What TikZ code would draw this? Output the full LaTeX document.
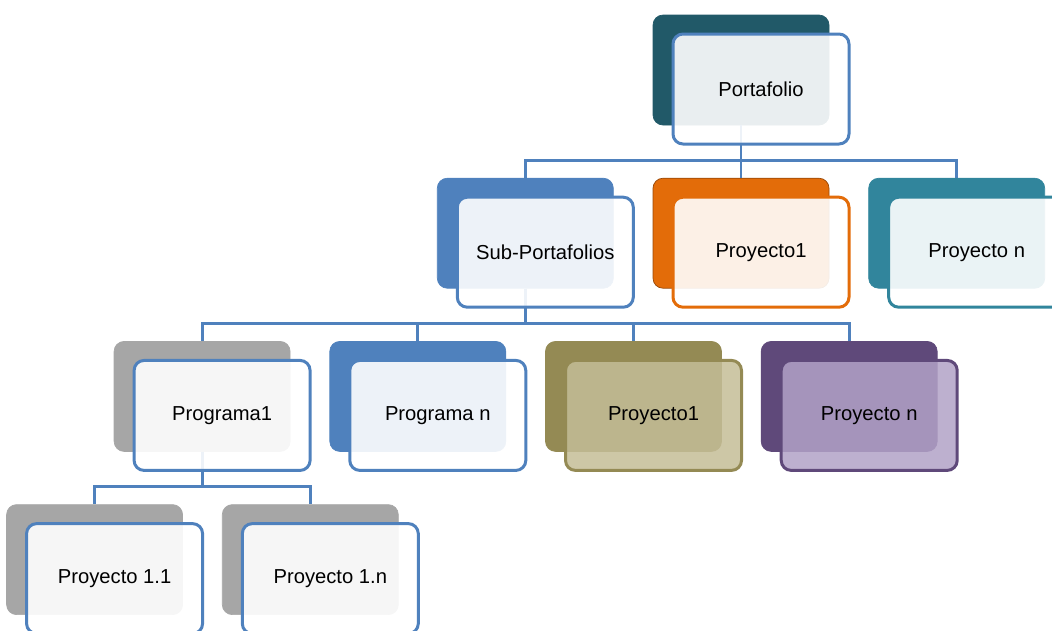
\documentclass[tikz,border=0pt]{standalone}
\usepackage{fontspec}
\setmainfont{Liberation Sans}
\usetikzlibrary{positioning}
\definecolor{linkblue}{HTML}{4F81BD}
\definecolor{darkteal}{HTML}{215968}
\definecolor{seateal}{HTML}{31859C}
\definecolor{orangeback}{HTML}{E36C09}
\definecolor{orangeline}{HTML}{984807}
\definecolor{greyback}{HTML}{A6A6A6}
\definecolor{oliveback}{HTML}{948A54}
\definecolor{olivefront}{HTML}{C4BD97}
\definecolor{purpleback}{HTML}{5F497A}
\definecolor{purplefront}{HTML}{B2A2C7}

\begin{document}
\begin{tikzpicture}[
    node distance=1.05cm and 0.78cm,
    back/.style={rectangle, rounded corners=0.2cm, minimum width=3.52cm, minimum height=2.2cm, fill=#1, draw=#1},
    front/.style={rectangle, rounded corners=0.2cm, minimum width=3.52cm, minimum height=2.2cm, draw=#1, line width=1.7pt, fill=white, fill opacity=0.9, text opacity=1, font=\fontsize{11.5}{13}\selectfont},
    link/.style={draw=linkblue, line width=1.6pt}
]

\clip (0,0) rectangle (21.04,-12.6);
\useasboundingbox (0,0) rectangle (21.04,-12.6);

% back boxes
\node[back=darkteal] (port) at (14.82,-1.4) {};
\node[back=orangeback, draw=orangeline, below=of port] (pr1) {};
\node[back=linkblue, left=of pr1] (sub) {};
\node[back=seateal, right=of pr1] (prn) {};

\node[back=linkblue, below=of sub, xshift=-2.15cm] (pgn) {};
\node[back=greyback, left=of pgn] (pg1) {};
\node[back=oliveback, right=of pgn] (pj1) {};
\node[back=purpleback, right=of pj1] (pjn) {};

\node[back=greyback, below=of pg1, xshift=-2.15cm] (p11) {};
\node[back=greyback, right=of p11] (p1n) {};

% connectors
\draw[link] (port.south) -- ++(0,-0.7) -| (sub.north);
\draw[link] (port.south) -- ++(0,-0.7) -| (pr1.north);
\draw[link] (port.south) -- ++(0,-0.7) -| (prn.north);
\draw[link] (sub.south) -- ++(0,-0.7) -| (pg1.north);
\draw[link] (sub.south) -- ++(0,-0.7) -| (pgn.north);
\draw[link] (sub.south) -- ++(0,-0.7) -| (pj1.north);
\draw[link] (sub.south) -- ++(0,-0.7) -| (pjn.north);
\draw[link] (pg1.south) -- ++(0,-0.7) -| (p11.north);
\draw[link] (pg1.south) -- ++(0,-0.7) -| (p1n.north);

% front boxes
\node[front=linkblue] (portF) at ([shift={(0.4,-0.38)}]port) {Portafolio};
\node[front=linkblue] (subF) at ([shift={(0.4,-0.38)}]sub) {Sub-Portafolios};
\node[front=orangeback] (pr1F) at ([shift={(0.4,-0.38)}]pr1) {Proyecto1};
\node[front=seateal] (prnF) at ([shift={(0.4,-0.38)}]prn) {Proyecto n};

\node[front=linkblue] (pg1F) at ([shift={(0.4,-0.38)}]pg1) {Programa1};
\node[front=linkblue] (pgnF) at ([shift={(0.4,-0.38)}]pgn) {Programa n};
\node[front=oliveback, fill=olivefront, fill opacity=0.85] (pj1F) at ([shift={(0.4,-0.38)}]pj1) {Proyecto1};
\node[front=purpleback, fill=purplefront, fill opacity=0.85] (pjnF) at ([shift={(0.4,-0.38)}]pjn) {Proyecto n};

\node[front=linkblue] (p11F) at ([shift={(0.4,-0.38)}]p11) {Proyecto 1.1};
\node[front=linkblue] (p1nF) at ([shift={(0.4,-0.38)}]p1n) {Proyecto 1.n};

\end{tikzpicture}
\end{document}
